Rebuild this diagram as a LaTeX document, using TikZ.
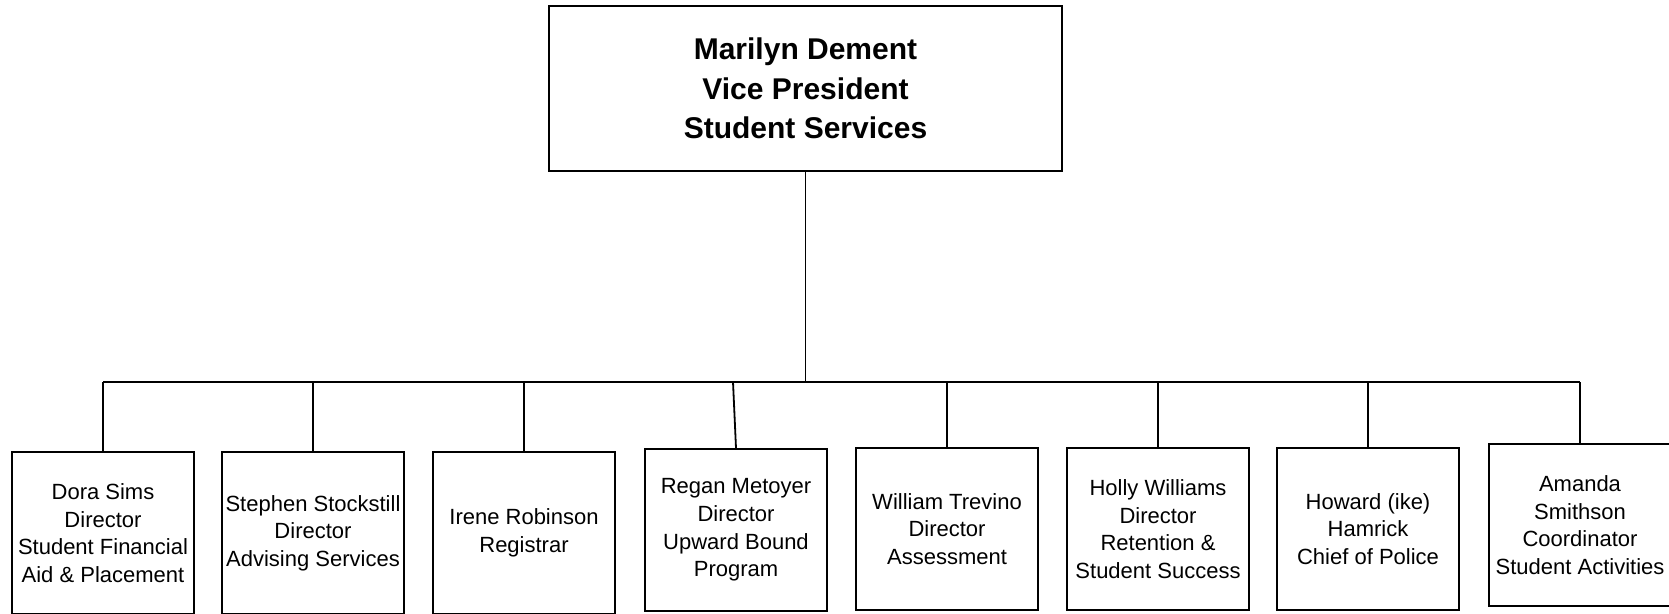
\documentclass[tikz,border=0pt]{standalone}
\usepackage{fontspec}
\setmainfont{Liberation Sans}

\begin{document}
\begin{tikzpicture}[x=1pt, y=-1pt, line width=1.8pt,
        head/.style={draw, minimum width=513pt, minimum height=165pt, inner sep=0pt,
            align=center, font=\fontsize{30}{39.5}\selectfont\bfseries},
        staff/.style={draw, minimum width=182pt, minimum height=162pt, inner sep=0pt,
            align=center, font=\fontsize{22}{27.6}\selectfont}]
    \useasboundingbox (0,0) rectangle (1669,613);
    \clip (0,0) rectangle (1669,613);

    \node[head] (vp) at (805.5,88.5) {Marilyn Dement\\Vice President\\Student Services};

    \node[staff] (dora)    at (103,533)  {Dora Sims\\Director\\Student Financial\\Aid \& Placement};
    \node[staff] (stephen) at (313,533)  {Stephen Stockstill\\Director\\Advising Services};
    \node[staff] (irene)   at (524,533)  {Irene Robinson\\Registrar};
    \node[staff] (regan)   at (736,530)  {Regan Metoyer\\Director\\Upward Bound\\Program};
    \node[staff] (william) at (947,529)  {William Trevino\\Director\\Assessment};
    \node[staff] (holly)   at (1158,529) {Holly Williams\\Director\\Retention \&\\Student Success};
    \node[staff] (howard)  at (1368,529) {Howard (ike)\\Hamrick\\Chief of Police};
    \node[staff] (amanda)  at (1580,525) {Amanda\\Smithson\\Coordinator\\Student Activities};

    \coordinate (bar) at (805.5,382);
    \coordinate (regtop) at (733,382);

    \draw (vp.south) -- (bar);
    \draw (dora.north |- bar) -- (amanda.north |- bar);
    \foreach \n in {dora,stephen,irene,william,holly,howard,amanda}
        \draw (\n.north |- bar) -- (\n.north);
    \draw (regtop) -- (regan.north);
\end{tikzpicture}
\end{document}
